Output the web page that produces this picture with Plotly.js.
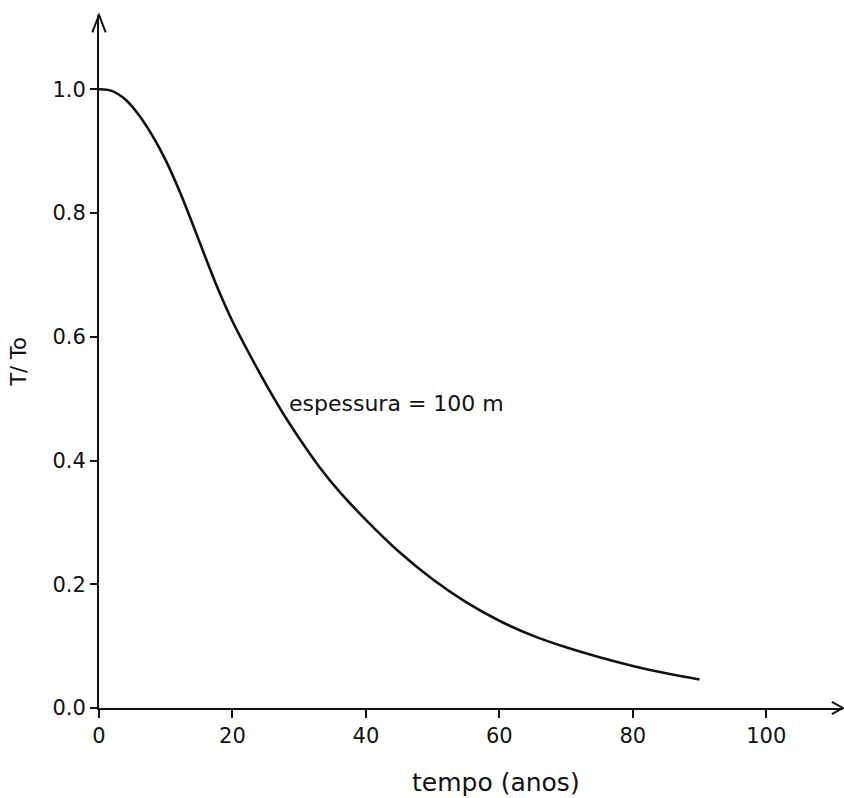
<!DOCTYPE html>
<html>
<head>
<meta charset="utf-8">
<script src="https://cdn.plot.ly/plotly-3.0.1.min.js"></script>
<style>
html, body { margin: 0; padding: 0; background: #ffffff; }
#chart { width: 844px; height: 798px; }
</style>
</head>
<body>
<div id="chart"></div>
<script>
// Data
var tempoAnos = [0, 2, 4, 6, 8, 10, 12, 14, 16, 18, 20, 22, 24, 26, 28, 30, 33, 36, 40, 45, 50, 55, 60, 65, 70, 75, 80, 85, 90];
var razaoT = [1.000, 0.997, 0.983, 0.958, 0.925, 0.885, 0.837, 0.783, 0.727, 0.673, 0.625, 0.583, 0.543, 0.505, 0.469, 0.436, 0.390, 0.350, 0.304, 0.252, 0.208, 0.171, 0.141, 0.117, 0.098, 0.082, 0.068, 0.056, 0.046];
var xTickVals = [0, 20, 40, 60, 80, 100];
var xTickText = ["0", "20", "40", "60", "80", "100"];
var yTickVals = [0, 0.2, 0.4, 0.6, 0.8, 1.0];
var yTickText = ["0.0", "0.2", "0.4", "0.6", "0.8", "1.0"];
var curveLabel = "espessura = 100 m";
var xTitle = "tempo (anos)";
var yTitle = "T/ To";

var FONT = "DejaVu Sans, Arial, sans-serif";
var INK = "#111111";

var trace = {
  x: tempoAnos,
  y: razaoT,
  type: "scatter",
  mode: "lines",
  line: { color: INK, width: 2.6, shape: "spline", smoothing: 1.0 },
  hoverinfo: "x+y",
  showlegend: false
};

var layout = {
  width: 844,
  height: 798,
  margin: { l: 99, r: 1, t: 15, b: 90, pad: 0 },
  paper_bgcolor: "#ffffff",
  plot_bgcolor: "#ffffff",
  font: { family: FONT, color: INK, size: 21 },
  showlegend: false,
  xaxis: {
    range: [0, 111.5],
    showgrid: false,
    zeroline: false,
    showline: true,
    linecolor: INK,
    linewidth: 2,
    ticks: "outside",
    ticklen: 8,
    tickwidth: 2,
    tickcolor: INK,
    tickmode: "array",
    tickvals: xTickVals,
    ticktext: xTickText,
    tickfont: { family: FONT, size: 21, color: INK },
    fixedrange: true
  },
  yaxis: {
    range: [0, 1.12],
    showgrid: false,
    zeroline: false,
    showline: true,
    linecolor: INK,
    linewidth: 2,
    ticks: "outside",
    ticklen: 7,
    tickwidth: 2,
    tickcolor: INK,
    tickmode: "array",
    tickvals: yTickVals,
    ticktext: yTickText,
    tickfont: { family: FONT, size: 21, color: INK },
    title: { text: yTitle, font: { family: FONT, size: 21, color: INK }, standoff: 20 },
    fixedrange: true
  },
  annotations: [
    {
      x: 28.2, y: 0.492, xref: "x", yref: "y",
      text: curveLabel, showarrow: false,
      xanchor: "left", yanchor: "middle",
      font: { family: FONT, size: 22, color: INK }
    },
    {
      x: 0.534, y: -0.107, xref: "paper", yref: "paper",
      text: xTitle, showarrow: false,
      xanchor: "center", yanchor: "middle",
      font: { family: FONT, size: 25, color: INK }
    }
  ],
  shapes: [
    // open arrowhead at top of y axis
    { type: "path", xref: "paper", yref: "paper",
      path: "M -0.009,0.975 L 0,1 L 0.009,0.975",
      line: { color: INK, width: 2 } },
    // open arrowhead at right end of x axis
    { type: "path", xref: "paper", yref: "paper",
      path: "M 0.985,0.009 L 1,0 L 0.985,-0.009",
      line: { color: INK, width: 2 } }
  ]
};

Plotly.newPlot("chart", [trace], layout, { displayModeBar: false, staticPlot: true });
</script>
</body>
</html>
